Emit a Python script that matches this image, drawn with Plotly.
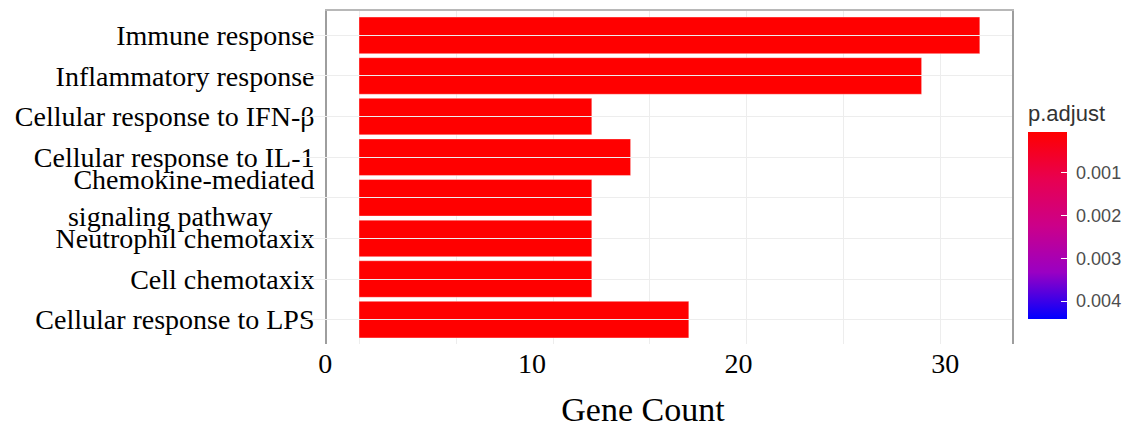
import plotly.graph_objects as go

# ---- data ----
terms = [
    "Immune response",
    "Inflammatory response",
    "Cellular response to IFN-β",
    "Cellular response to IL-1",
    "Chemokine-mediated<br>signaling pathway\u00a0\u00a0\u00a0\u00a0\u00a0\u00a0",
    "Neutrophil chemotaxix",
    "Cell chemotaxix",
    "Cellular response to LPS",
]
gene_count = [32, 29, 12, 14, 12, 12, 12, 17]
p_adjust = [0.00005, 0.00005, 0.00005, 0.00005, 0.00005, 0.00005, 0.00005, 0.00005]

count_ticks = [0, 10, 20, 30]
count_tick_labels = ["0", "10", "20", "30"]
p_ticks = [0.001, 0.002, 0.003, 0.004]
p_tick_labels = ["0.001", "0.002", "0.003", "0.004"]
p_range = [0.000046, 0.00442]

# colour is shown low-at-top like the reference, so map to -p
neg_p = [-v for v in p_adjust]

SERIF = "Liberation Serif, Times New Roman, serif"
SANS = "Liberation Sans, Arial, sans-serif"

colorscale = [
    [0.0, "#0000FF"],
    [0.25, "#9A00C3"],
    [0.5, "#CC0089"],
    [0.75, "#E80050"],
    [1.0, "#FF0000"],
]

fig = go.Figure()
fig.add_trace(go.Bar(
    x=gene_count,
    y=terms,
    orientation="h",
    width=0.9,
    marker=dict(
        color=neg_p,
        colorscale=colorscale,
        cmin=-p_range[1],
        cmax=-p_range[0],
        line=dict(color="rgba(255,255,255,0.6)", width=0.6),
        colorbar=dict(
            title=dict(text="p.adjust", side="top",
                       font=dict(family=SANS, size=22, color="#333333")),
            x=1.0225, xanchor="left", xpad=0,
            y=0.0751, yanchor="bottom", ypad=0,
            len=217, lenmode="pixels",
            thickness=39, thicknessmode="pixels",
            outlinewidth=0,
            tickmode="array",
            tickvals=[-v for v in p_ticks],
            ticktext=["\u00a0" + t for t in p_tick_labels],
            ticks="inside", ticklen=6, tickcolor="white", tickwidth=1,
            tickfont=dict(family=SANS, size=18, color="#4D4D4D"),
        ),
    ),
    showlegend=False,
    hoverinfo="x+y",
))

# invisible carrier so the bottom label axis is drawn
fig.add_trace(go.Scatter(
    x=count_ticks,
    y=[terms[-1]] * len(count_ticks),
    xaxis="x2", yaxis="y",
    mode="markers",
    marker=dict(opacity=0, size=1),
    hoverinfo="skip",
    showlegend=False,
))

fig.update_layout(
    width=1132, height=428,
    margin=dict(l=300, r=120, t=11, b=84, autoexpand=False),
    paper_bgcolor="white",
    plot_bgcolor="rgba(0,0,0,0)",
    bargap=0.1,
    xaxis=dict(
        domain=[0.03792, 1],
        range=[-1.65, 33.66],
        side="top",
        showticklabels=False,
        ticks="",
        dtick=5, tick0=0,
        showgrid=True, gridcolor="#EDEDED", gridwidth=1.2,
        zeroline=False,
        showline=True, linecolor="#B8B8B8", linewidth=1.5,
        automargin=False,
    ),
    xaxis2=dict(
        domain=[0, 0.9635],
        anchor="free", position=0,
        range=[-1.219, 31.97],
        tickmode="array",
        tickvals=count_ticks,
        ticktext=count_tick_labels,
        ticks="",
        showgrid=False, zeroline=False, showline=False,
        tickfont=dict(family=SERIF, size=28, color="black"),
        title=dict(text="Gene Count", font=dict(family=SERIF, size=34, color="black"),
                   standoff=19),
        automargin=False,
    ),
    yaxis=dict(
        type="category",
        categoryorder="array",
        categoryarray=terms,
        range=[7.6, -0.6],
        ticks="outside", ticklen=5, tickcolor="#8C8C8C", tickwidth=1.2,
        tickfont=dict(family=SERIF, size=28, color="black"),
        showgrid=True, gridcolor="#EDEDED", gridwidth=1.2,
        showline=True, linecolor="#9E9E9E", linewidth=1.8, mirror=True,
        zeroline=False,
        automargin=False,
    ),
)

fig.write_html("out.html", config={"displayModeBar": False})

# remove the browser's default page margin so the figure sits at (0, 0)
with open("out.html", "r", encoding="utf-8") as f:
    html = f.read()
html = html.replace("<body>", '<body style="margin:0;padding:0;">', 1)
with open("out.html", "w", encoding="utf-8") as f:
    f.write(html)
